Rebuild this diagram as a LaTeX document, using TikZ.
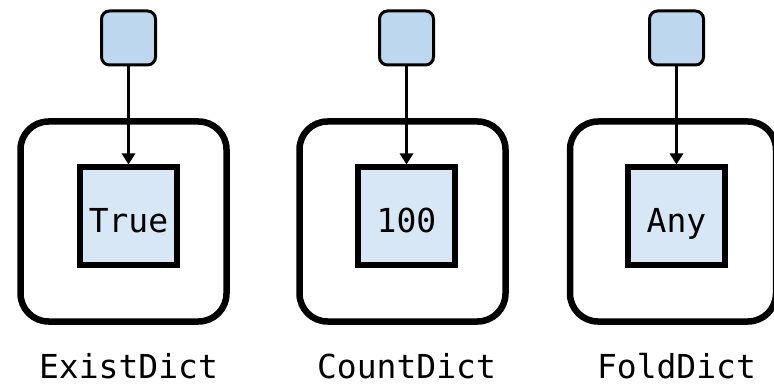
\documentclass[tikz,border=0pt]{standalone}
\usepackage{fontspec}
\setmonofont{DejaVu Sans Mono}
\usetikzlibrary{arrows.meta}
\definecolor{keyblue}{HTML}{BDD7EE}
\definecolor{valblue}{HTML}{D7E7F5}
\begin{document}
\begin{tikzpicture}[x=1pt, y=-1pt,
        key/.style={draw, line width=3pt, rounded corners=8pt, fill=keyblue,
                    minimum size=54pt, inner sep=0pt},
        val/.style={draw, line width=6pt, fill=valblue, minimum size=97pt,
                    inner sep=0pt, text height=32pt, text depth=0pt,
                    font=\ttfamily\fontsize{33}{40}\selectfont},
        dict/.style={draw, line width=6.5pt, rounded corners=28pt,
                     minimum width=206pt, minimum height=200pt},
        dname/.style={anchor=base, inner sep=0pt,
                      font=\ttfamily\fontsize{33}{40}\selectfont}]
    \useasboundingbox (0,0) rectangle (774,385);
    % one dictionary per column: key -> value inside its box
    \foreach \x/\bx/\name/\val/\id in {128.5/123.5/ExistDict/True/exist,
                                     406.5/402.5/CountDict/100/count,
                                     676.5/673/FoldDict/Any/fold} {
        \node[dict] (\id-box) at (\bx, 221.5) {};
        \node[val] (\id-val) at (\x, 216) {\val};
        \node[key] (\id-key) at (\x, 38) {};
        \node[dname] (\id-name) at (\x, 378) {\name};
        \draw[-{Triangle[length=11pt, width=13pt]}, line width=3pt]
            (\id-key) -- (\id-val);
    }
\end{tikzpicture}
\end{document}
